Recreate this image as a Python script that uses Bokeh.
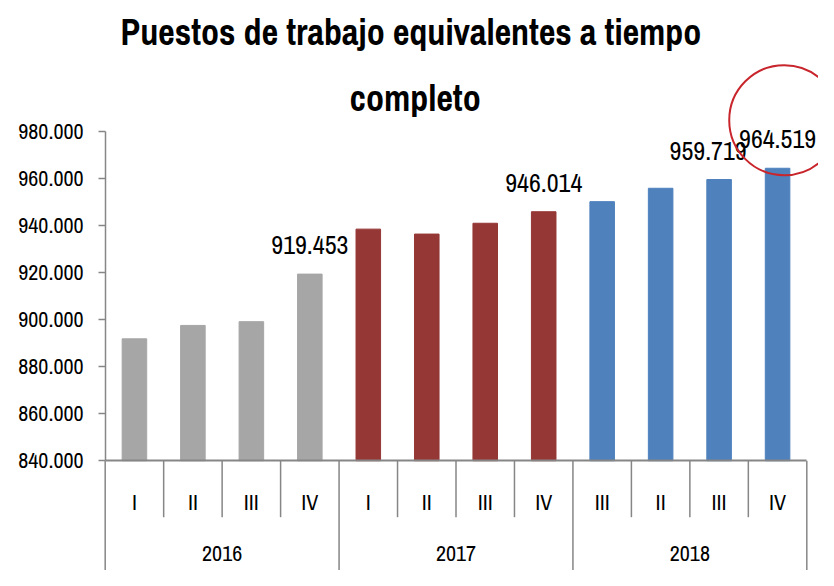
from bokeh.plotting import figure
from bokeh.models import FactorRange, Range1d, FixedTicker, ColumnDataSource, LinearAxis
from bokeh.core.properties import value
from bokeh.embed import file_html
from bokeh.resources import INLINE

# ---- data ----
years = ["2016", "2016", "2016", "2016", "2017", "2017", "2017", "2017", "2018", "2018", "2018", "2018"]
quarters = ["I", "II", "III", "IV", "I", "II", "III", "IV", "III", "II", "III ", "IV"]
empleo = [891900, 897600, 899200, 919453, 938600, 936500, 941100, 946014, 950300, 956000, 959719, 964519]
shown_labels = [False, False, False, True, False, False, False, True, False, False, True, True]
y_ticks = [840000, 860000, 880000, 900000, 920000, 940000, 960000, 980000]
title_lines = ["Puestos de trabajo  equivalentes a tiempo", "completo"]

GRAY, RED, BLUE = "#A6A6A6", "#953735", "#4F81BD"
year_color = {"2016": GRAY, "2017": RED, "2018": BLUE}
FONT = "Archivo Narrow"
AX = "#868686"

factors = list(zip(years, quarters))
base = y_ticks[0]
y_lo, y_hi = 793250, 1035950
tick_text = {t: f"{t:,}".replace(",", ".") for t in y_ticks}

p = figure(x_range=FactorRange(*factors, range_padding=0.4 / 12, range_padding_units="percent",
                               factor_padding=0, group_padding=0, subgroup_padding=0),
           y_range=Range1d(y_lo, y_hi),
           width=818, height=570, output_backend="svg", toolbar_location=None,
           min_border_left=93, min_border_right=0, min_border_top=0, min_border_bottom=0)
p.outline_line_color = None
p.grid.visible = False
p.background_fill_color = "white"

src = ColumnDataSource(dict(x=factors, top=empleo,
                            color=[year_color[y] for y in years]))
p.vbar(x="x", top="top", bottom=base, width=0.42, color="color", source=src)

# data labels
lab_x = [f for f, s in zip(factors, shown_labels) if s]
lab_y = [v for v, s in zip(empleo, shown_labels) if s]
lab_t = [f"{v:,}".replace(",", ".") for v in lab_y]
lab_dx = [0, 0, -11, 0]
p.text(x=lab_x, y=lab_y, text=lab_t, x_offset=lab_dx, y_offset=-29,
       text_align="center", text_baseline="alphabetic",
       text_font=value(FONT), text_font_size="26px", text_color="#000000")

# y axis labels (left panel)
ya = p.yaxis[0]
ya.ticker = FixedTicker(ticks=y_ticks)
ya.major_label_overrides = tick_text
ya.axis_line_color = None
ya.major_tick_line_color = None
ya.minor_tick_line_color = None
ya.major_tick_out = 0
ya.major_tick_in = 0
ya.major_label_standoff = 10
ya.major_label_text_font = FONT
ya.major_label_text_font_size = "22px"
ya.major_label_text_color = "#000000"

# y axis line + ticks at the left edge of the first category
yl = LinearAxis(fixed_location=0.0, bounds=(y_ticks[0], y_ticks[-1]),
                ticker=FixedTicker(ticks=y_ticks),
                major_tick_out=7, major_tick_in=0,
                minor_tick_line_color=None,
                axis_line_color=AX, axis_line_width=1.5,
                major_tick_line_color=AX, major_tick_line_width=1.5,
                major_label_text_color=None)
p.add_layout(yl, "left")

# x axis fixed at baseline
xa = p.xaxis[0]
xa.fixed_location = base
xa.bounds = (0, len(factors))
xa.axis_line_color = AX
xa.axis_line_width = 2
xa.major_tick_line_color = None
xa.minor_tick_line_color = None
xa.major_label_text_color = None
xa.group_text_color = None
xa.separator_line_color = None

# quarter / year labels and separators
p.text(x=factors, y=[822380] * len(factors), text=[q.strip() for q in quarters],
       text_align="center", text_baseline="middle", text_font=value(FONT),
       text_font_size="22px", text_color="#000000")
uy = list(dict.fromkeys(years))
p.text(x=uy, y=[800600] * len(uy), text=uy, text_align="center", text_baseline="middle",
       text_font=value(FONT), text_font_size="22px", text_color="#000000")

sx, sy0, sy1 = [], [], []
for i, f in enumerate(factors):
    sx.append((f[0], f[1], -0.5))
    sy0.append(base)
    sy1.append(y_lo - 10000 if i % 4 == 0 else 815950)
sx.append((factors[-1][0], factors[-1][1], 0.5))
sy0.append(base)
sy1.append(y_lo - 10000)
p.segment(x0=sx, y0=sy0, x1=sx, y1=sy1, line_color=AX, line_width=1.5)

# title
p.text(x=[5.3, 5.3], y=[1022400, 994640], text=title_lines, text_align="center",
       text_baseline="alphabetic", text_font=value(FONT), text_font_style="bold",
       text_font_size="36px", text_color="#000000")

# highlight circle around the last value
p.scatter(x=[(factors[-1][0], factors[-1][1], 0.114)], y=[empleo[-1] + 20460], size=110,
          fill_color=None, line_color="#C8262C", line_width=2)

open("out.html", "w").write(file_html(p, INLINE))
